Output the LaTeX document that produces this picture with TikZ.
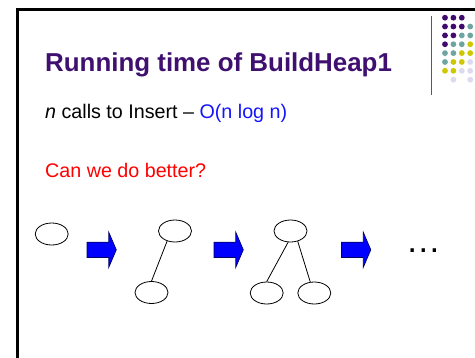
\documentclass[tikz,border=0pt]{standalone}
\usepackage{fontspec}
\setmainfont{Liberation Sans}
\usetikzlibrary{shapes.geometric}
\definecolor{titlepurple}{RGB}{64,16,112}
\definecolor{oblue}{RGB}{20,20,255}
\definecolor{dotP}{RGB}{64,10,110}
\definecolor{dotT}{RGB}{110,165,160}
\definecolor{dotY}{RGB}{206,200,0}
\definecolor{dotL}{RGB}{220,218,238}
\definecolor{arrowblue}{RGB}{0,0,255}
\tikzset{
  treenode/.style={draw=black, ellipse, minimum width=33pt, minimum height=22pt, inner sep=0pt, line width=0.8pt},
  edge/.style={draw=black, line width=0.8pt},
  textline/.style={anchor=base west, inner sep=0pt},
  blockarrow/.pic={\draw[fill=arrowblue, draw=black!60!blue, line width=0.7pt]
     (0,-7.6) -- (21.8,-7.6) -- (21.8,-17.5) -- (29.3,0) -- (21.8,17.5) -- (21.8,7.6) -- (0,7.6) -- cycle;}
}
\begin{document}
\begin{tikzpicture}[x=1pt,y=-1pt]
\useasboundingbox (0,0) rectangle (475,357);
\fill[white] (0,0) rectangle (475,357);
% frame
\draw[line width=2.5pt] (17.3,358) -- (17.3,9.7) -- (476,9.7);
\draw[gray!70!black, line width=1pt] (431.7,16) -- (431.7,95);
% dot grid
\foreach \c/\r/\col in {
  0/0/dotP,1/0/dotP,2/0/dotP,
  0/1/dotP,1/1/dotP,2/1/dotP,3/1/dotT,
  0/2/dotP,1/2/dotP,2/2/dotT,3/2/dotT,
  0/3/dotP,1/3/dotT,2/3/dotT,3/3/dotY,
  0/4/dotT,1/4/dotT,2/4/dotY,3/4/dotY,
  0/5/dotT,1/5/dotY,2/5/dotY,3/5/dotL,
  0/6/dotY,1/6/dotY,2/6/dotL,3/6/dotL,
  1/7/dotL,3/7/dotL}
  \fill[\col] ({445+8.4*\c},{17.7+8.85*\r}) circle (2.9);
% texts
\node[textline, text=titlepurple, font=\fontsize{25.9}{30}\selectfont\bfseries] (title) at (45,71.7) {Running time of BuildHeap1};
\node[textline, font=\fontsize{19.7}{24}\selectfont] (line1) at (45,118.3) {\textit{n} calls to Insert – \textcolor{oblue}{O(n log n)}};
\node[textline, text=red, font=\fontsize{19.7}{24}\selectfont] (line2) at (45,177) {Can we do better?};
% trees
\node[treenode] (a) at (51.7,234) {};
\node[treenode] (b1) at (175,231) {};
\node[treenode] (b2) at (151.5,292.5) {};
\node[treenode] (c1) at (290.5,231) {};
\node[treenode] (c2) at (266.7,293) {};
\node[treenode] (c3) at (314.3,293) {};
\draw[edge] (b1.232) -- (b2.north);
\draw[edge] (c1.258) -- (c2.north);
\draw[edge] (c1.305) -- (c3.110);
% arrows
\pic at (87,249.8) {blockarrow};
\pic at (214,249.8) {blockarrow};
\pic at (341.5,249.8) {blockarrow};
% ellipsis
\node[anchor=base, inner sep=0pt, font=\fontsize{35}{40}\selectfont] (dots) at (423.3,252.8) {…};
\end{tikzpicture}
\end{document}
